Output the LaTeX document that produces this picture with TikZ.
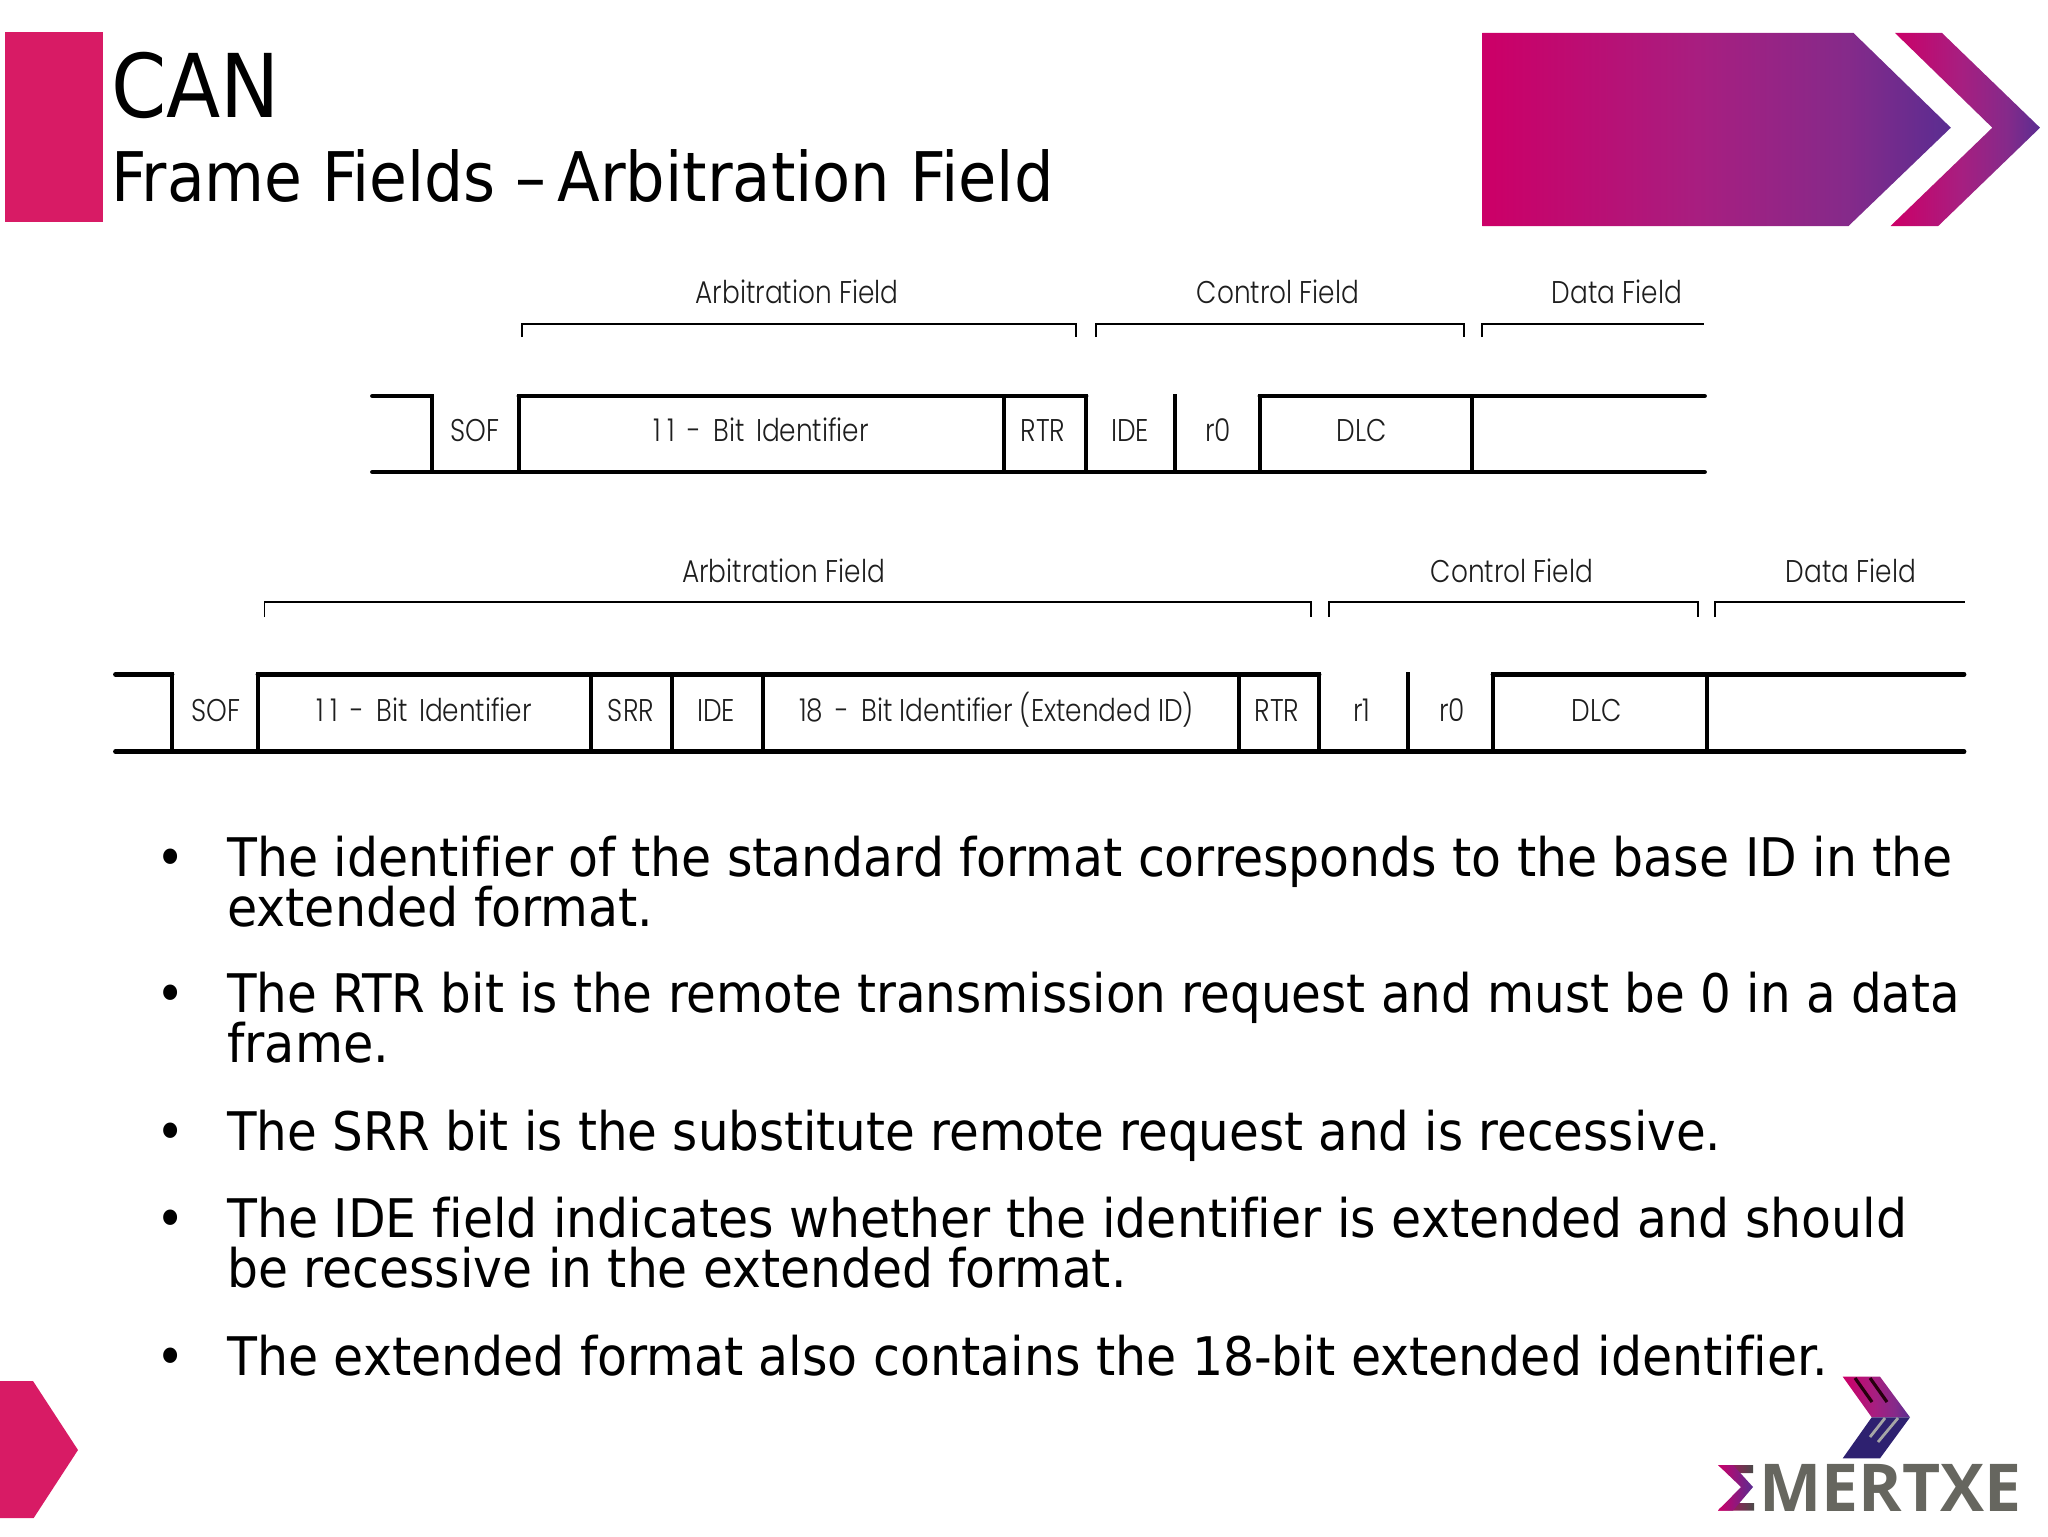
\documentclass[tikz,border=0pt]{standalone}
\usepackage{fontspec}
\setmainfont[Ligatures=NoCommon]{DejaVu Sans Condensed}
\newfontfamily\diagfont[UprightFont={* Light},FakeStretch=0.84,Ligatures=NoCommon]{Poppins}
\newfontfamily\logofont{Open Sans}
\usetikzlibrary{shadings}
\definecolor{pinkbar}{HTML}{D81B65}
\definecolor{txtgrey}{HTML}{1E1E1E}
\definecolor{logogrey}{HTML}{66665F}
\definecolor{logodark}{HTML}{4A4A48}
\definecolor{logonavy}{HTML}{2E2170}
\definecolor{gA}{HTML}{CB0068}
\definecolor{gB}{HTML}{A81E80}
\definecolor{gD}{HTML}{852A8A}
\definecolor{gC}{HTML}{5A2D91}
\pgfdeclarehorizontalshading{bannerG}{100bp}{color(0bp)=(gA); color(26bp)=(gA); color(48bp)=(gB); color(64bp)=(gD); color(75bp)=(gC); color(100bp)=(gC)}
\newcommand{\elevenbit}{1\kern3.5pt 1\hspace{2.5pt} - \hspace{2.5pt}Bit\hspace{2pt} Identifier}
\tikzset{
 frameline/.style={line width=2.4pt,line cap=round,line join=miter,black},
 framebar/.style={line width=1.9pt,line cap=rect,black},
 bracketline/.style={line width=0.8pt,black},
 difflabel/.style={inner sep=0pt,anchor=base,text=txtgrey,font=\diagfont\fontsize{15.7}{18}\selectfont},
 titlea/.style={inner sep=0pt,anchor=base west,font=\fontsize{44}{50}\selectfont},
 titleb/.style={inner sep=0pt,anchor=base west,font=\fontsize{34.2}{38}\selectfont},
 bulletdot/.style={inner sep=0pt,anchor=base west,font=\fontsize{26.6}{25}\selectfont},
 bullettxt/.style={inner sep=0pt,anchor=base west,font=\fontsize{26.6}{25}\selectfont},
}
\begin{document}
\begin{tikzpicture}[x=0.5pt,y=-0.5pt]
\useasboundingbox (0,0) rectangle (2048,1536);
% header
\fill[pinkbar] (5,32) rectangle (103,222);
\node[titlea] (t1) at (111,118) {CAN};
\node[titleb] (t2) at (111,201.7) {Frame Fields –\kern-4pt\ \scalebox{1.013}[1]{Arbitration Field}};
\shade[shading=bannerG] (1482.4,33) -- (1853.5,33) -- (1950.8,127.7) -- (1848.5,226) -- (1482.4,226) -- cycle;
\shade[shading=bannerG] (1895,33) -- (1942,33) -- (2040,127.7) -- (1938.2,226) -- (1890.5,226) -- (1992.3,127.7) -- cycle;
% bracket row 1
\draw[bracketline] (522,337) |- (1076,323.7) -- (1076,337);
\draw[bracketline] (1096,337) |- (1464,323.7) -- (1464,337);
\draw[bracketline] (1482,337) |- (1704,323.7);
\node[difflabel] (a1) at (797,303.3) {Arbitration Field};
\node[difflabel] (c1) at (1278,303.3) {Control Field};
\node[difflabel] (d1) at (1617,303.3) {Data Field};
% row 1
\draw[frameline] (372.5,396) -- (431.6,396) (519,396) -- (1086,396) (1260,396) -- (1704.5,396);
\draw[frameline] (372.5,472) -- (1704.5,472);
\foreach \x in {431.6,519,1004,1086,1175,1260,1472}{\draw[framebar] (\x,396) -- (\x,472);}
\node[difflabel] at (475,441.7) {SOF};
\node[difflabel] at (761,441.7) {\elevenbit};
\node[difflabel] at (1043,441.7) {RTR};
\node[difflabel] at (1130,441.7) {IDE};
\node[difflabel] at (1218,441.7) {r0};
\node[difflabel] at (1362,441.7) {DLC};
% bracket row 2
\draw[bracketline] (264.5,617) |- (1311,601.7) -- (1311,617);
\draw[bracketline] (1329,617) |- (1698,601.7) -- (1698,617);
\draw[bracketline] (1715,617) |- (1965,601.7);
\node[difflabel] (a2) at (783.6,582.7) {Arbitration Field};
\node[difflabel] (c2) at (1512,582.7) {Control Field};
\node[difflabel] (d2) at (1851,582.7) {Data Field};
% row 2
\draw[frameline] (115.5,674.3) -- (172,674.3) (258,674.3) -- (1319,674.3) (1493,674.3) -- (1964,674.3);
\draw[frameline] (115.5,751.7) -- (1964,751.7);
\foreach \x in {172,258,591,672,763,1239,1319,1408,1493,1707}{\draw[framebar] (\x,674.3) -- (\x,751.7);}
\node[difflabel] at (216,721.7) {SOF};
\node[difflabel] at (424,721.7) {\elevenbit};
\node[difflabel] at (631,721.7) {SRR};
\node[difflabel] at (716,721.7) {IDE};
\node[difflabel] at (996.5,721.7) {18\hspace{2.5pt} - \hspace{2.5pt}Bit Identifier (Extended ID)};
\node[difflabel] at (1277,721.7) {RTR};
\node[difflabel] at (1362,721.7) {r1};
\node[difflabel] at (1452,721.7) {r0};
\node[difflabel] at (1597,721.7) {DLC};
% bullets
\foreach \y/\s/\t in {
 876/1.0217/{The identifier of the standard format corresponds to the base ID in the},
 926/1.025/{extended format.},
 1012.7/1.0107/{The RTR bit is the remote transmission request and must be 0 in a data},
 1062.7/1.03/{frame.},
 1150.2/1.0097/{The SRR bit is the substitute remote request and is recessive.},
 1237.4/1.0215/{The IDE field indicates whether the identifier is extended and should},
 1287.4/1.018/{be recessive in the extended format.},
 1375/1.0226/{The extended format also contains the 18-bit extended identifier.}}
{\node[bullettxt] at (227,\y) {\scalebox{\s}[1]{\t}};}
\foreach \y in {876,1012.7,1150.2,1237.4,1375}{\node[bulletdot] at (156,\y) {•};}
% footer
\fill[pinkbar] (0,1381) -- (33,1381) -- (78,1450) -- (33.7,1518) -- (0,1518) -- cycle;
% logo
\shade[shading=bannerG] (1842.7,1376.7) -- (1880,1376.7) -- (1910,1417.3) -- (1871.7,1417.3) -- cycle;
\fill[logonavy] (1871.7,1417.3) -- (1910,1417.3) -- (1880,1458.3) -- (1842.7,1458.3) -- cycle;
\draw[line width=1.6pt,black!80!purple] (1855,1378) -- (1872,1402) (1870,1378) -- (1887,1402);
\draw[line width=1.4pt,gray!70] (1885,1418) -- (1870,1437) (1898,1418) -- (1878,1442);
\shade[left color=gA,right color=logodark] (1718,1465) -- (1753,1465) -- (1753,1473) -- (1735,1473) -- (1720,1467) -- cycle;
\shade[left color=gA,right color=logodark] (1718,1510.5) -- (1754,1510.5) -- (1754,1503) -- (1734,1503) -- (1720,1508) -- cycle;
\shade[left color=gA,right color=gC] (1718,1465) -- (1733,1465) -- (1753,1487) -- (1733,1510.5) -- (1718,1510.5) -- (1741,1487) -- cycle;
\node[inner sep=0pt,anchor=base west,text=logogrey,font=\logofont\fontsize{33}{33}\selectfont\bfseries] (logo) at (1759,1511.5) {MERTXE};
\end{tikzpicture}
\end{document}
